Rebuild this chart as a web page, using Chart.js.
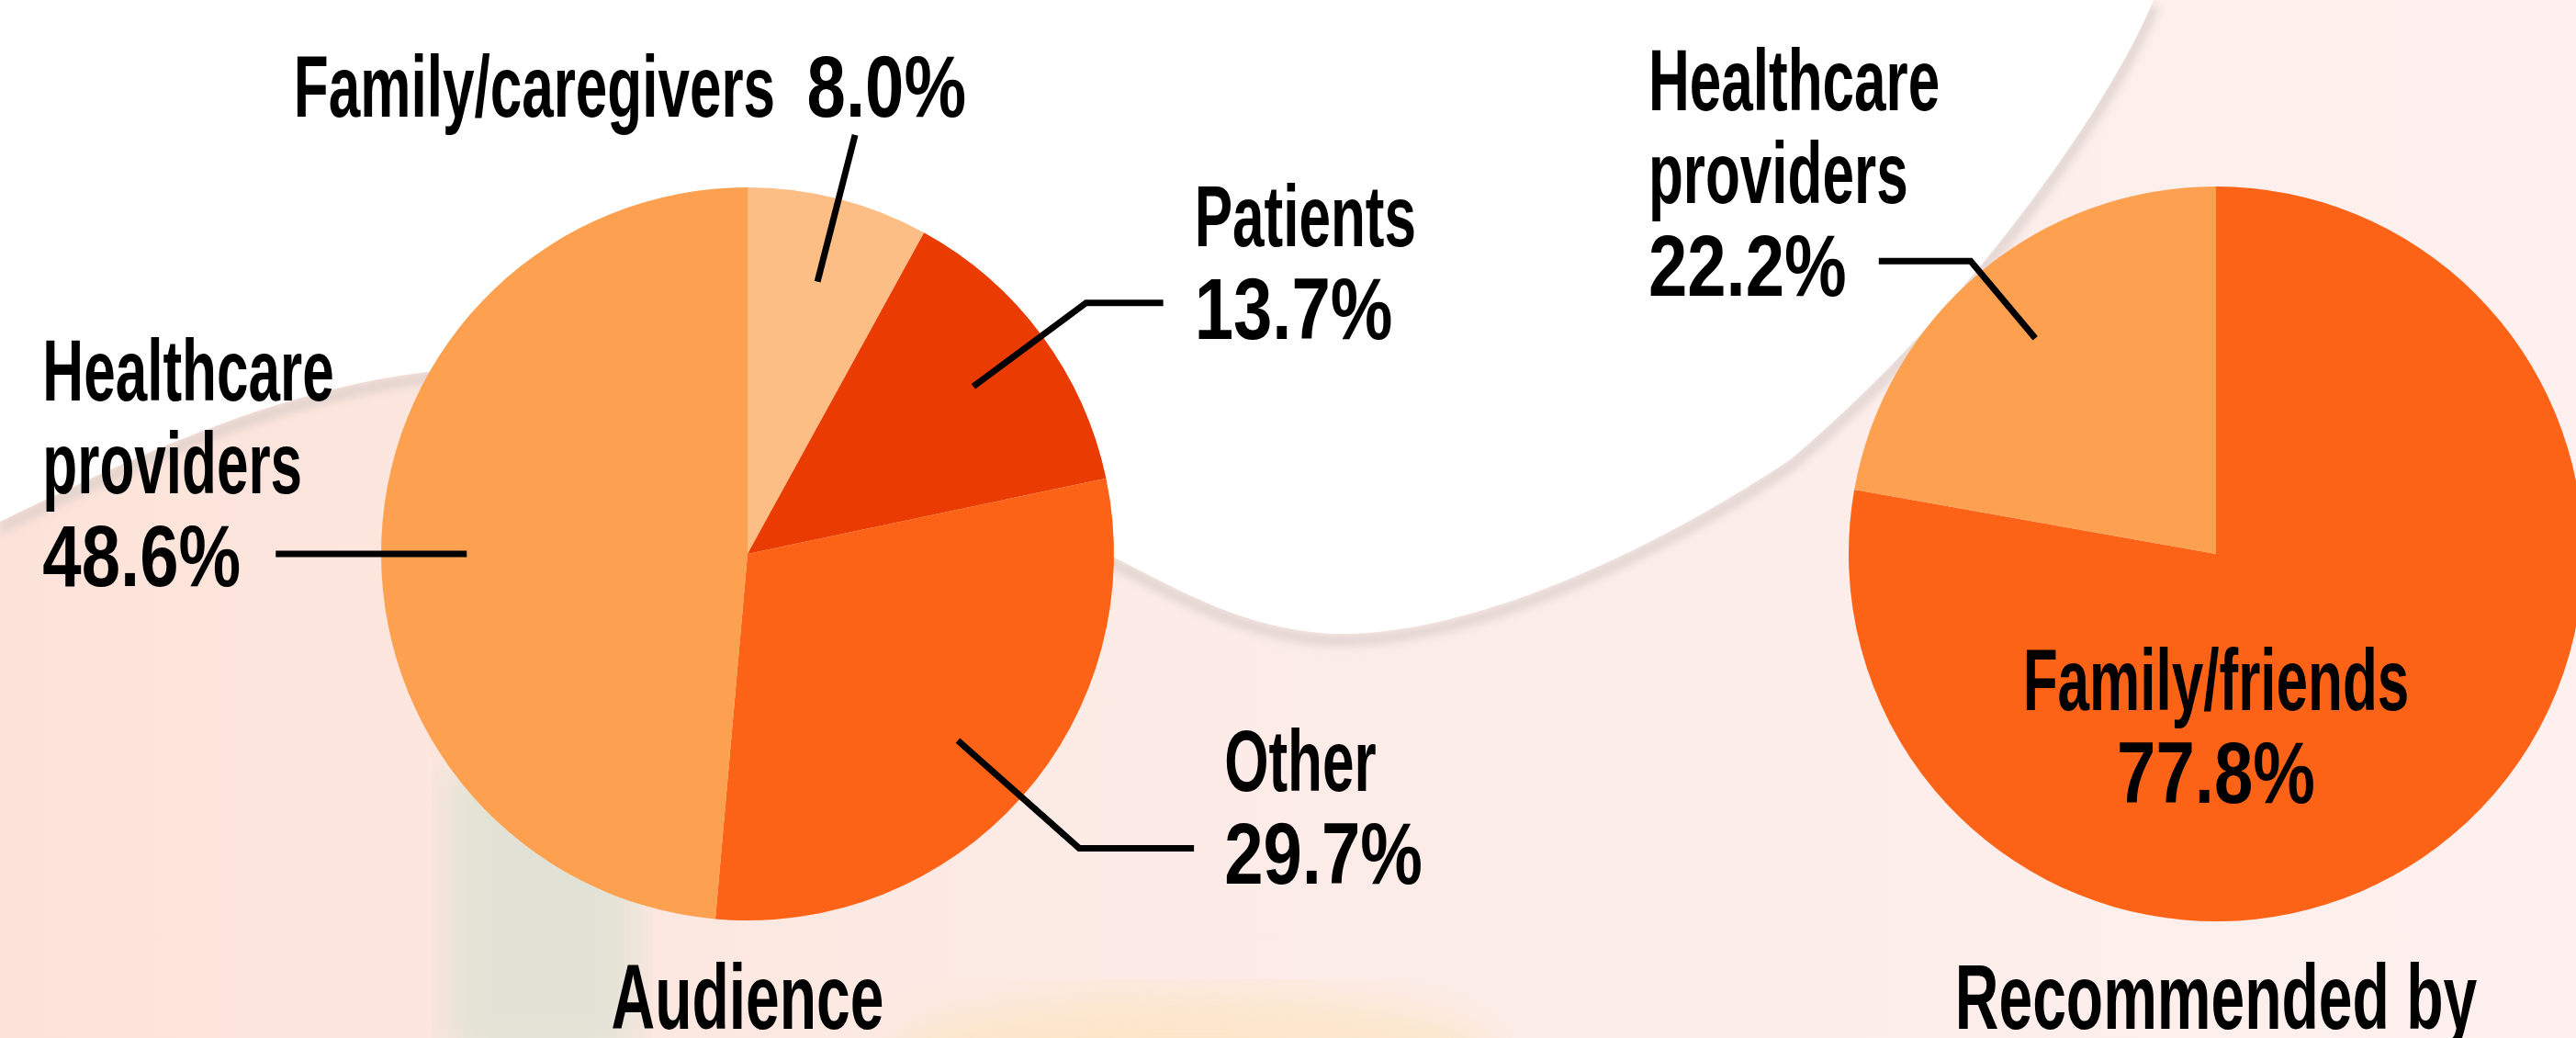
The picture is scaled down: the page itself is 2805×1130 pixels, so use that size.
<!DOCTYPE html>
<html>
<head>
<meta charset="utf-8">
<title>Audience and recommended by</title>
<script src="https://cdn.jsdelivr.net/npm/chart.js@4.4.1/dist/chart.umd.min.js"></script>
<style>
  html, body { margin: 0; padding: 0; width: 2805px; height: 1130px; overflow: hidden; background: #fcebe6; }
  #bg { position: absolute; left: 0; top: 0; }
  canvas { position: absolute; top: 0; }
  #audience { left: 0; }
  #referral { left: 1780px; }
</style>
</head>
<body>
<svg id="bg" width="2805" height="1130">
  <defs>
    <linearGradient id="pink" x1="0" x2="1" y1="0" y2="0">
      <stop offset="0" stop-color="#fce3d9"/>
      <stop offset="0.45" stop-color="#fcebe6"/>
      <stop offset="1" stop-color="#fdf0ee"/>
    </linearGradient>
    <filter id="soft"><feGaussianBlur stdDeviation="5"/></filter>
    <filter id="haze"><feGaussianBlur stdDeviation="22"/></filter>
  </defs>
  <rect width="2805" height="1130" fill="url(#pink)"/>
  <rect x="490" y="830" width="200" height="320" fill="#dde2d4" opacity="0.85" filter="url(#haze)"/>
  <ellipse cx="1300" cy="1150" rx="330" ry="70" fill="#fbe3b8" opacity="0.6" filter="url(#haze)"/>
  <path d="M0,568 C150,495 300,425 464,405 C700,380 1000,480 1200,600 C1280,640 1350,684 1450,690 C1600,694 1800,600 1950,500 C2150,330 2300,110 2345,0"
        transform="translate(0,7)" fill="none" stroke="#d3c8c5" stroke-width="12" opacity="0.65" filter="url(#soft)"/>
  <path d="M0,0 H2345 C2300,110 2150,330 1950,500 C1800,600 1600,694 1450,690 C1350,684 1280,640 1200,600 C1000,480 700,380 464,405 C300,425 150,495 0,568 Z"
        fill="#ffffff"/>
</svg>
<canvas id="audience" width="1780" height="1130"></canvas>
<canvas id="referral" width="1040" height="1130"></canvas>
<script>
// ---- data ----
const audienceLabels = ['Family/caregivers', 'Patients', 'Other', 'Healthcare providers'];
const audienceShares = [8.0, 13.7, 29.7, 48.6];
const audienceColors = ['#FDBE86', '#EA3C02', '#FD6316', '#FDA04F'];

const referralLabels = ['Family/friends', 'Healthcare providers'];
const referralShares = [77.8, 22.2];
const referralColors = ['#FD6316', '#FDA04F'];

// ---- text helpers ----
const SQUEEZE = 0.66;       // condensed look for words
const NUM_SQUEEZE = 0.81;   // digits in the original face are wider
const LINE_STEP = 101;
const LABEL_FONT = 'bold 94px "Liberation Sans", Arial, sans-serif';
const TITLE_FONT = 'bold 100px "Liberation Sans", Arial, sans-serif';

function squeezedText(ctx, str, x, y, k) {
  const w = ctx.measureText(str).width * (k || SQUEEZE);
  ctx.fillText(str, x, y, w);
  return w;
}

// leader lines + labels, positioned from the arc elements
const calloutPlugin = {
  id: 'callouts',
  afterDatasetsDraw(chart, args, opts) {
    const ctx = chart.ctx;
    const meta = chart.getDatasetMeta(0);
    const names = chart.data.labels;
    const shares = chart.data.datasets[0].data;
    ctx.save();
    ctx.fillStyle = '#000';
    ctx.strokeStyle = '#000';
    ctx.textBaseline = 'alphabetic';

    meta.data.forEach((arc, i) => {
      const spec = opts.items[i];
      const p = arc.getProps(['x', 'y', 'startAngle', 'endAngle', 'outerRadius'], true);
      const mid = (p.startAngle + p.endAngle) / 2;
      const pct = shares[i].toFixed(1) + '%';
      ctx.font = LABEL_FONT;

      if (spec.inside) {
        ctx.textAlign = 'center';
        squeezedText(ctx, names[i], p.x, p.y + spec.baseline);
        squeezedText(ctx, pct, p.x, p.y + spec.baseline + LINE_STEP, NUM_SQUEEZE);
        return;
      }

      const at = f => ({
        x: p.x + Math.cos(mid) * p.outerRadius * f,
        y: p.y + Math.sin(mid) * p.outerRadius * f
      });
      const a = at(spec.from);
      const b = at(spec.to);
      if (spec.level) { a.y = p.y; b.y = p.y; }
      const c = {x: b.x + spec.run, y: b.y};

      ctx.lineWidth = 7;
      ctx.lineJoin = 'miter';
      ctx.beginPath();
      ctx.moveTo(a.x, a.y);
      ctx.lineTo(b.x, b.y);
      ctx.lineTo(c.x, c.y);
      ctx.stroke();

      if (spec.inline) {
        ctx.textAlign = 'right';
        const x = c.x + spec.dx, y = c.y + spec.dy;
        const pw = squeezedText(ctx, pct, x, y, NUM_SQUEEZE);
        const sp = ctx.measureText('  ').width * SQUEEZE;
        squeezedText(ctx, names[i], x - pw - sp, y);
        return;
      }

      const words = spec.wrap ? names[i].split(' ') : [names[i]];
      ctx.textAlign = 'left';
      const lastW = ctx.measureText(pct).width * NUM_SQUEEZE;
      const left = spec.run < 0 ? c.x - spec.gap - lastW : c.x + spec.gap;
      const base = c.y + spec.dy;
      words.forEach((t, k) => squeezedText(ctx, t, left, base - (words.length - k) * LINE_STEP));
      squeezedText(ctx, pct, left, base, NUM_SQUEEZE);
    });

    // caption under the pie
    ctx.font = TITLE_FONT;
    ctx.textAlign = 'center';
    squeezedText(ctx, opts.caption, meta.data[0].x, opts.captionY);
    ctx.restore();
  }
};

function pieChart(id, labels, shares, colors, padding, callouts) {
  return new Chart(document.getElementById(id), {
    type: 'pie',
    data: {
      labels: labels,
      datasets: [{
        data: shares,
        backgroundColor: colors,
        borderWidth: 0,
        hoverOffset: 0
      }]
    },
    options: {
      responsive: false,
      animation: false,
      events: [],
      layout: { padding: padding },
      plugins: {
        legend: { display: false },
        tooltip: { enabled: false },
        callouts: callouts
      }
    },
    plugins: [calloutPlugin]
  });
}

pieChart('audience', audienceLabels, audienceShares, audienceColors,
  { left: 415, right: 567, top: 204, bottom: 128 },
  {
    caption: 'Audience',
    captionY: 1120,
    items: [
      { from: 0.767, to: 1.18, run: 0, inline: true, dx: 121, dy: -20 },
      { from: 0.767, to: 1.15, run: 84, gap: 34, dy: 39 },
      { from: 0.767, to: 1.21, run: 125, gap: 33, dy: 39 },
      { from: 0.767, to: 0.767, run: -208, gap: 38, dy: 35, wrap: true, level: true }
    ]
  });

pieChart('referral', referralLabels, referralShares, referralColors,
  { left: 233, right: 7, top: 203, bottom: 127 },
  {
    caption: 'Recommended by',
    captionY: 1120,
    items: [
      { inside: true, baseline: 170 },
      { from: 0.766, to: 1.04, run: -100, gap: 35, dy: 38, wrap: true }
    ]
  });
</script>
</body>
</html>
